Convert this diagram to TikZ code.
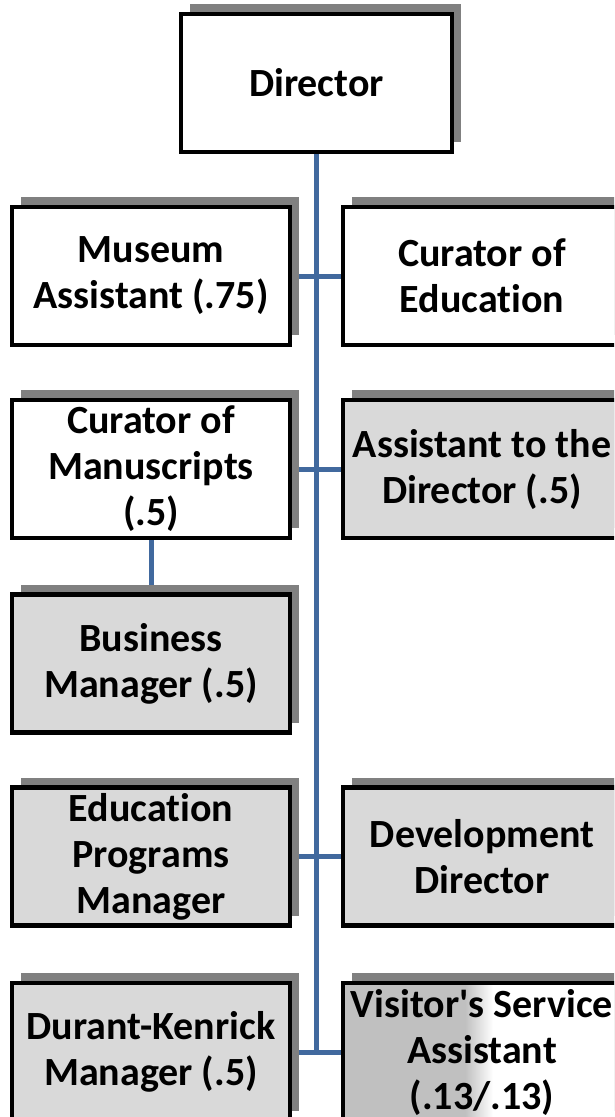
\documentclass[tikz,border=0pt]{standalone}
\usepackage{fontspec}
\setmainfont{Carlito}[Ligatures=NoCommon]
\usepackage{tikz}
\usetikzlibrary{shadows,backgrounds}
\definecolor{lnblue}{RGB}{65,105,158}
\definecolor{boxgray}{RGB}{217,217,217}
\definecolor{shgray}{RGB}{128,128,128}
\definecolor{vgray}{RGB}{192,192,192}

\begin{document}
\begin{tikzpicture}[
    x=1pt, y=-1pt,
    box/.style={rectangle, draw, line width=4.5pt, fill=white, align=center,
        minimum width=278pt, minimum height=138pt, inner sep=0pt,
        font=\bfseries\fontsize{40}{46}\selectfont,
        drop shadow={fill=shgray, opacity=1, shadow xshift=9pt, shadow yshift=10pt}},
    grey/.style={box, fill=boxgray},
    fade/.style={box, path picture={
        \fill[vgray] (path picture bounding box.south west) rectangle ([xshift=122pt]path picture bounding box.north west);
        \shade[left color=vgray, right color=white] ([xshift=122pt]path picture bounding box.south west) rectangle ([xshift=150pt]path picture bounding box.north west);}},
    link/.style={draw=lnblue, line width=5pt}
]
\clip (0,0) rectangle (614,1117);
% Fila superior
\node[box, minimum width=271pt] (dir) at (316.5,83) {Director};
% Filas izquierda / derecha
\node[box] (musa) at (151,276) {Museum\\Assistant (.75)};
\node[box] (cedu) at (482,276) {Curator of\\Education};
\node[box] (cman) at (151,469) {Curator of\\Manuscripts\\(.5)};
\node[grey] (asst) at (482,469) {Assistant to the\\Director (.5)};
\node[grey] (bman) at (151,663.5) {Business\\Manager (.5)};
\node[grey] (epm) at (151,856.5) {Education\\Programs\\Manager};
\node[grey] (devd) at (482,856.5) {Development\\Director};
\node[grey] (dkm) at (151,1052) {Durant-Kenrick\\Manager (.5)};
\node[fade] (vsa) at (482,1052) {Visitor\textquotesingle s Service\\Assistant\\(.13/.13)};

% Conexiones
\begin{pgfonlayer}{background}
\draw[link] (dir.south) -- (dir.south |- dkm.east);
\draw[link] (musa.east) -- (cedu.west);
\draw[link] (cman.east) -- (asst.west);
\draw[link] (cman.south) -- (bman.north);
\draw[link] (epm.east) -- (devd.west);
\draw[link] (dkm.east) -- (vsa.west);
\end{pgfonlayer}
\end{tikzpicture}
\end{document}
